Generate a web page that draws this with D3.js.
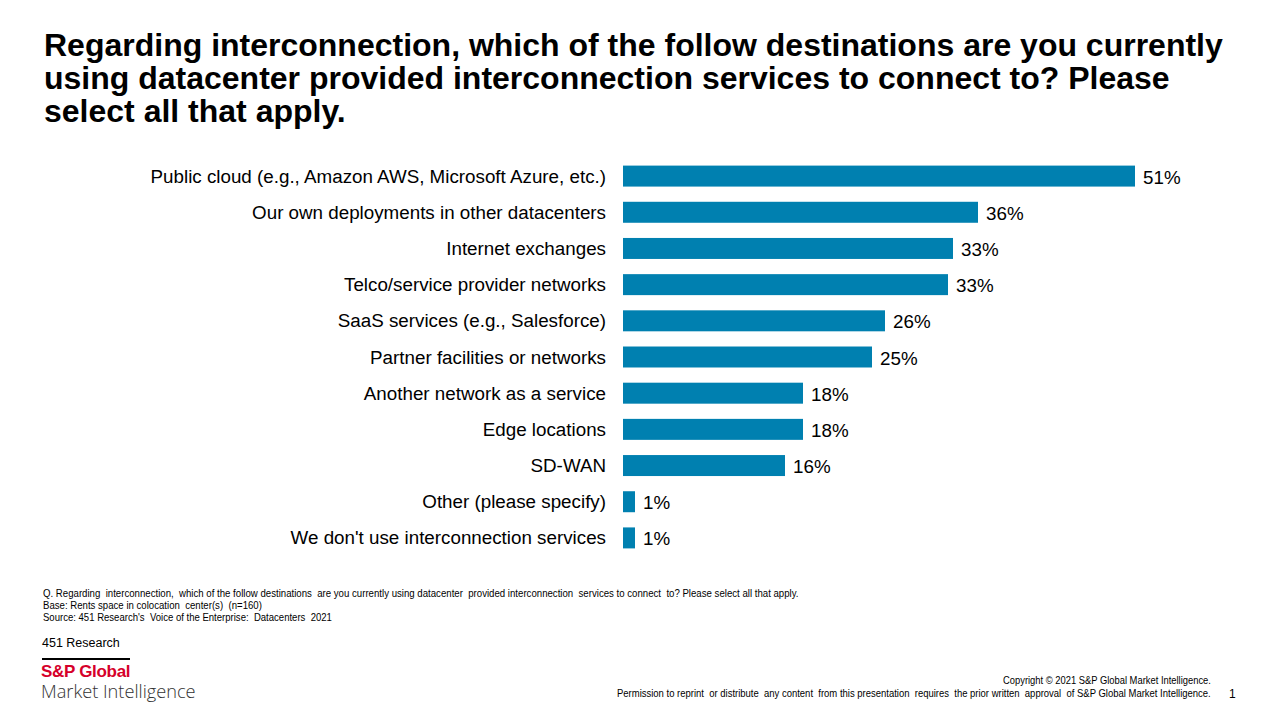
<!DOCTYPE html>
<html><head><meta charset="utf-8">
<script src="https://cdn.jsdelivr.net/npm/d3@7"></script>
<style>body{margin:0;background:#fff}svg{display:block}</style>
</head><body>
<svg id="c" width="1280" height="720"></svg>
<script>
const categories = [
  "Public cloud (e.g., Amazon AWS, Microsoft Azure, etc.)",
  "Our own deployments in other datacenters",
  "Internet exchanges",
  "Telco/service provider networks",
  "SaaS services (e.g., Salesforce)",
  "Partner facilities or networks",
  "Another network as a service",
  "Edge locations",
  "SD-WAN",
  "Other (please specify)",
  "We don't use interconnection services"
];
const values = [51.2, 35.5, 33.0, 32.5, 26.2, 24.9, 18.0, 18.0, 16.2, 1.2, 1.2];
const titleLines = [
  "Regarding interconnection, which of the follow destinations are you currently",
  "using datacenter provided interconnection services to connect to? Please",
  "select all that apply."
];
const notes = [
  "Q. Regarding  interconnection,  which of the follow destinations  are you currently using datacenter  provided interconnection  services to connect  to? Please select all that apply.",
  "Base: Rents space in colocation  center(s)  (n=160)",
  "Source: 451 Research's  Voice of the Enterprise:  Datacenters  2021"
];
const noteWidths = [757, 219, 289];

const svg = d3.select("#c");
const sans = "Liberation Sans, Arial, Helvetica, sans-serif";

// condensed text: draw at natural width, then squeeze horizontally to target width
function narrowText(sel, x0, y0, target, str) {
  const t = sel.append("text").attr("x", 0).attr("y", 0)
    .attr("font-family", sans).attr("font-size", 11).attr("fill", "#000")
    .style("white-space", "pre").text(str);
  const w = t.node().getComputedTextLength();
  t.attr("transform", `translate(${x0},${y0}) scale(${target / w},1)`);
  return t;
}

svg.append("g").selectAll("text").data(titleLines).join("text")
  .attr("x", 44).attr("y", (d,i)=>56+i*33)
  .attr("font-family", sans).attr("font-weight","bold").attr("font-size", 32)
  .attr("fill","#000").text(d=>d);

const x = d3.scaleLinear().domain([0, 51.2]).range([623, 1135]);
const y = d3.scaleBand().domain(categories).range([158, 556]).paddingInner(0.42).paddingOuter(0.21);

svg.append("g").selectAll("rect").data(values).join("rect")
  .attr("x", x(0)).attr("y", (d,i)=>y(categories[i]))
  .attr("width", d=>x(d)-x(0)).attr("height", y.bandwidth())
  .attr("fill", "#0080b0");

svg.append("g").selectAll("text").data(categories).join("text")
  .attr("x", 606).attr("y", d=>y(d)+y.bandwidth()/2).attr("dy","0.35em")
  .attr("text-anchor","end").attr("font-family", sans).attr("font-size", 18.8)
  .attr("fill","#000").text(d=>d);

svg.append("g").selectAll("text").data(values).join("text")
  .attr("x", d=>x(d)+8).attr("y", (d,i)=>y(categories[i])+y.bandwidth()/2).attr("dy","0.4em")
  .attr("font-family", sans).attr("font-size", 18.8).attr("fill","#000")
  .text(d=>Math.round(d)+"%");

const notesG = svg.append("g");
notes.forEach((d, i) => narrowText(notesG, 43, 597 + i * 12, noteWidths[i], d));

svg.append("text").attr("x",42).attr("y",647).attr("font-family", sans)
  .attr("font-size", 12.5).attr("fill","#000").text("451 Research");
svg.append("rect").attr("x",42).attr("y",658).attr("width",88).attr("height",2).attr("fill","#000");
svg.append("text").attr("x",41).attr("y",677).attr("font-family", sans)
  .attr("font-size", 17).attr("font-weight","bold").attr("fill","#d6002a")
  .attr("letter-spacing","-0.3").text("S&P Global");
svg.append("text").attr("x",41).attr("y",698).attr("font-family", "Open Sans, Liberation Sans, sans-serif")
  .attr("font-size", 18.2).attr("font-weight","300").attr("fill","#333").text("Market Intelligence");

const footG = svg.append("g");
narrowText(footG, 1211 - 208, 684, 208, "Copyright © 2021 S&P Global Market Intelligence.");
narrowText(footG, 1211 - 594, 697, 594,
  "Permission to reprint  or distribute  any content  from this presentation  requires  the prior written  approval  of S&P Global Market Intelligence.");
svg.append("text").attr("x",1229).attr("y",698).attr("font-family", sans)
  .attr("font-size", 12).attr("fill","#000").text("1");
</script>
</body></html>
